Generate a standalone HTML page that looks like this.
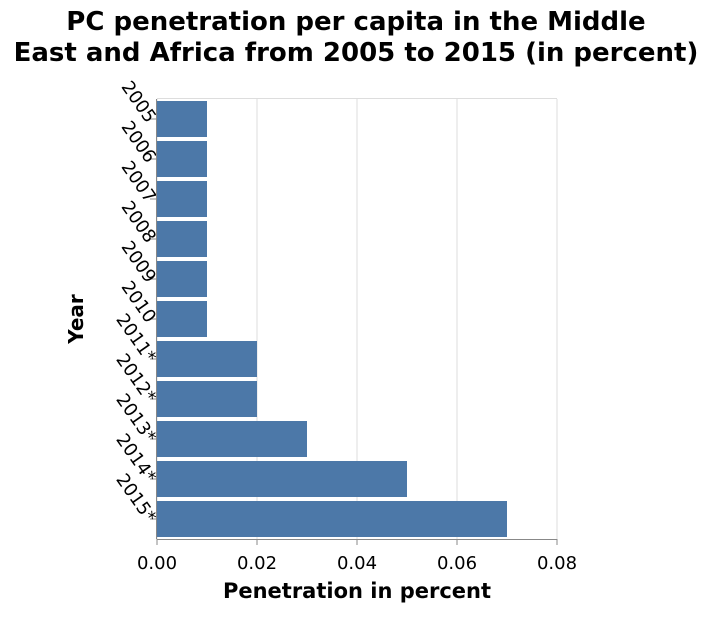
<!DOCTYPE html>
<html><head><meta charset="utf-8"><style>
body{margin:0;background:#fff;}
svg text{font-family:"DejaVu Sans","Liberation Sans",sans-serif;}
</style></head><body>
<svg id="chart" width="712" height="612" xmlns="http://www.w3.org/2000/svg">
<text x="356" y="30" text-anchor="middle" font-size="26" font-weight="bold">PC penetration per capita in the Middle</text>
<text x="356" y="61" text-anchor="middle" font-size="26" font-weight="bold">East and Africa from 2005 to 2015 (in percent)</text>
<g id="grid"></g>
<g id="bars"></g>
<g id="axes"></g>
<text x="357" y="598" text-anchor="middle" font-size="21" font-weight="bold">Penetration in percent</text>
<text transform="translate(83,319) rotate(-90)" text-anchor="middle" font-size="20" font-weight="bold">Year</text>
</svg>
<script>
const categories=["2005","2006","2007","2008","2009","2010","2011*","2012*","2013*","2014*","2015*"];
const values=[0.01,0.01,0.01,0.01,0.01,0.01,0.02,0.02,0.03,0.05,0.07];
const xTicks=[0,0.02,0.04,0.06,0.08];
const xTickLabels=["0.00","0.02","0.04","0.06","0.08"];
const X0=157,X1=557,Y0=99,Y1=539,xMax=0.08;
const ns="http://www.w3.org/2000/svg";
const x=v=>X0+(v/xMax)*(X1-X0);
const step=(Y1-Y0)/categories.length;
const y=i=>Y0+i*step;
function mk(t,a,p){const e=document.createElementNS(ns,t);for(const k in a)e.setAttribute(k,a[k]);p.appendChild(e);return e;}
const grid=document.getElementById('grid'),bars=document.getElementById('bars'),axes=document.getElementById('axes');
mk('line',{x1:X0,x2:X1,y1:Y0-0.5,y2:Y0-0.5,stroke:'#ddd'},grid);
xTicks.forEach((t,i)=>{
 const g=mk('line',{x1:x(t),x2:x(t),y1:Y0,y2:Y1,stroke:'#ddd'},grid);
 
 
 const tk=mk('line',{x1:x(t),x2:x(t),y1:Y1,y2:Y1+6,stroke:'#888'},axes);
 
 
 const lb=mk('text',{x:x(t),y:Y1+30,'text-anchor':'middle','font-size':'18'},axes);
 lb.textContent=xTickLabels[i];
 
 
});
categories.forEach((c,i)=>{
 const r=mk('rect',{x:X0,y:y(i)+2,width:x(values[i])-X0,height:step-4,fill:'#4c78a8'},bars);
 
 
 const cy=y(i)+step/2;
 const tk=mk('line',{x1:X0-7,x2:X0,y1:cy,y2:cy,stroke:'#888'},axes);
 
 
 const lb=mk('text',{transform:`translate(${X0-10},${cy+5}) rotate(55)`,'text-anchor':'end','font-size':'18'},axes);
 lb.textContent=c;
 
 
});
mk('line',{x1:X0,x2:X1,y1:Y1+0.5,y2:Y1+0.5,stroke:'#888'},axes);
mk('line',{x1:X0-0.5,x2:X0-0.5,y1:Y0,y2:Y1,stroke:'#888'},axes);
</script>
</body></html>
